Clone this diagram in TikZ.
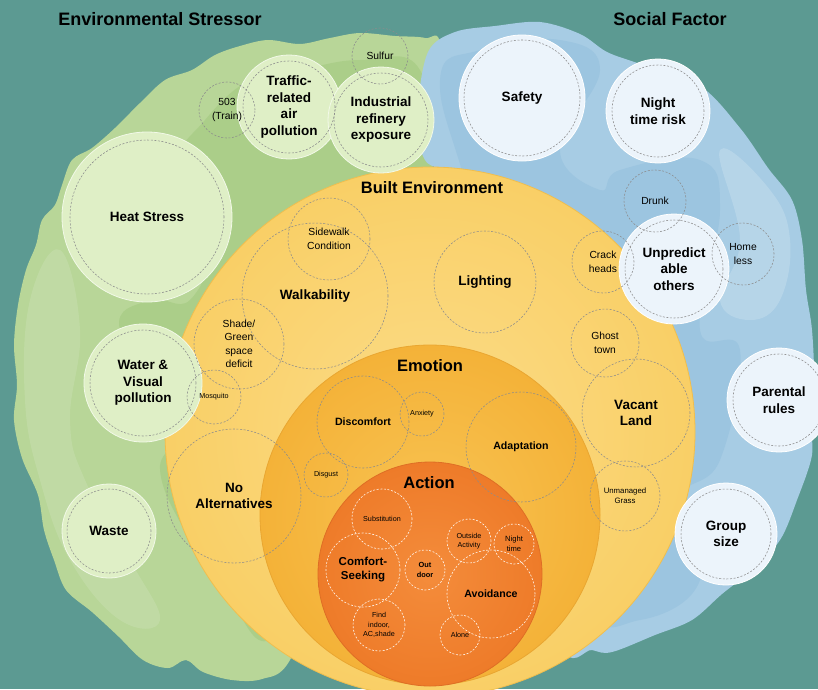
\documentclass[tikz,border=0pt]{standalone}
\usepackage{fontspec}
\setmainfont{Liberation Sans}
\definecolor{bgteal}{HTML}{5C9A92}
\definecolor{gblob}{HTML}{B8D698}
\definecolor{gblobdark}{HTML}{9CC577}
\definecolor{gfill}{HTML}{DFEFC6}
\definecolor{bblob}{HTML}{A7CCE4}
\definecolor{bblobdark}{HTML}{88B8D9}
\definecolor{bfill}{HTML}{ECF4FB}
\definecolor{yin}{HTML}{FBDC88}
\definecolor{yout}{HTML}{F9CF66}
\definecolor{yedge}{HTML}{F0BE4E}
\definecolor{ein}{HTML}{F8C352}
\definecolor{eout}{HTML}{F4B238}
\definecolor{eedge}{HTML}{E9A631}
\definecolor{ain}{HTML}{F48C3B}
\definecolor{aout}{HTML}{EE7B29}
\definecolor{aedge}{HTML}{DE6E25}
\definecolor{ringgray}{HTML}{8C8C8C}
\begin{document}
\begin{tikzpicture}[x=1pt,y=-1pt,
  bigf/.style={font=\fontsize{13.5}{16.5}\selectfont\bfseries},
  midf/.style={font=\fontsize{10.3}{13.5}\selectfont},
  midb/.style={font=\fontsize{10.6}{13}\selectfont\bfseries},
  smallf/.style={font=\fontsize{7.2}{9.4}\selectfont},
  titlef/.style={font=\fontsize{18}{20}\selectfont\bfseries},
  subf/.style={font=\fontsize{16.5}{18}\selectfont\bfseries},
  gcirc/.style={circle, fill=gfill, draw=white!60!gfill, line width=0.8pt, inner sep=0pt, align=center, bigf},
  bcirc/.style={circle, fill=bfill, draw=white, line width=0.8pt, inner sep=0pt, align=center, bigf},
  dring/.style={circle, draw=ringgray, dash pattern=on 2pt off 1.6pt, line width=0.55pt, inner sep=0pt, align=center},
  wring/.style={circle, draw=white!92!orange, dash pattern=on 2pt off 1.6pt, line width=0.6pt, inner sep=0pt, align=center},
  inring/.style={draw=ringgray, dash pattern=on 2pt off 1.6pt, line width=0.55pt}
]
\useasboundingbox (0,0) rectangle (818,689);
\fill[bgteal] (0,0) rectangle (818,689);

% green watercolor blob
\fill[gblob] plot[smooth cycle, tension=0.55] coordinates {
 (440,48) (425,38) (395,36) (360,33) (330,38) (300,44) (268,40) (240,46) (215,55)
 (192,70) (165,80) (140,103) (115,128) (92,148) (72,160) (62,185) (55,205) (42,220)
 (36,245) (26,270) (18,305) (14,345) (17,385) (14,420) (22,458) (38,495) (44,530)
 (54,560) (66,590) (92,612) (118,636) (143,660) (168,668) (186,660) (203,672)
 (232,680) (262,679) (290,660) (330,560) (380,300) (430,180)};
\fill[gblobdark, opacity=0.45] plot[smooth cycle, tension=0.7] coordinates {
 (420,70) (360,60) (300,70) (250,80) (205,120) (175,170) (210,240) (190,300)
 (150,300) (120,330) (180,420) (160,470) (190,540) (230,600) (270,640) (320,560)
 (380,300) (430,180)};
\fill[white, opacity=0.12] plot[smooth cycle, tension=0.7] coordinates {
 (30,300) (60,250) (80,330) (70,420) (85,480) (130,560) (160,620) (120,620) (70,560) (40,480) (25,400)};

% blue watercolor blob
\fill[bblob] plot[smooth cycle, tension=0.55] coordinates {
 (428,52) (455,32) (495,26) (540,22) (580,34) (607,52) (640,64) (700,86) (740,128)
 (768,168) (792,200) (802,240) (806,290) (812,330) (814,380) (810,420) (812,455)
 (797,500) (780,540) (752,570) (722,594) (692,620) (655,635) (612,652) (592,650)
 (560,640) (520,420) (470,200) (425,160) (418,110)};
\fill[bblobdark, opacity=0.35] plot[smooth cycle, tension=0.7] coordinates {
 (440,80) (480,50) (560,40) (600,70) (560,150) (600,190) (620,170) (700,160)
 (720,210) (700,330) (740,350) (720,460) (680,500) (700,580) (640,620) (580,600)
 (520,400) (470,200)};
\fill[white, opacity=0.18] plot[smooth cycle, tension=0.7] coordinates {
 (720,150) (770,190) (790,240) (780,300) (750,320) (720,300) (740,240)};

% nested circles
\shade[inner color=yin, outer color=yout] (430,432) circle[radius=265pt];
\draw[yedge, line width=0.8pt] (430,432) circle[radius=265pt];
\shade[inner color=ein, outer color=eout] (430,515) circle[radius=170pt];
\draw[eedge, line width=0.8pt] (430,515) circle[radius=170pt];
\shade[inner color=ain, outer color=aout] (430,574) circle[radius=112pt];
\draw[aedge, line width=0.8pt] (430,574) circle[radius=112pt];

% titles
\node[titlef] (envt) at (160,19) {Environmental Stressor};
\node[titlef] (soct) at (670,19) {Social Factor};
\node[subf] (bet) at (432,188) {Built Environment};
\node[subf] (emt) at (430,366) {Emotion};
\node[subf] (act) at (429,483) {Action};

% green factor circles
\node[gcirc, minimum size=170pt] (heat) at (147,217) {Heat Stress};
\node[gcirc, minimum size=104pt] (traffic) at (289,107) {Traffic-\\related\\air\\pollution};
\node[gcirc, minimum size=106pt] (industrial) at (381,120) {Industrial\\refinery\\exposure};
\node[gcirc, minimum size=118pt] (water) at (143,383) {Water \&\\Visual\\pollution};
\node[gcirc, minimum size=94pt] (waste) at (109,531) {Waste};
\draw[inring] (heat.center) circle[radius=77pt];
\draw[inring] (traffic.center) circle[radius=46pt];
\draw[inring] (industrial.center) circle[radius=47pt];
\draw[inring] (water.center) circle[radius=53pt];
\draw[inring] (waste.center) circle[radius=42pt];

% blue factor circles
\node[bcirc, minimum size=126pt] (safety) at (522,98) {Safety};
\node[bcirc, minimum size=104pt] (night) at (658,111) {Night\\time risk};
\node[bcirc, minimum size=110pt] (unpred) at (674,269) {Unpredict\\able\\others};
\node[bcirc, minimum size=104pt] (parental) at (779,400) {Parental\\rules};
\node[bcirc, minimum size=102pt] (group) at (726,534) {Group\\size};
\draw[inring] (safety.center) circle[radius=58pt];
\draw[inring] (night.center) circle[radius=46pt];
\draw[inring] (unpred.center) circle[radius=49pt];
\draw[inring] (parental.center) circle[radius=46pt];
\draw[inring] (group.center) circle[radius=45pt];

% dashed sub-factor rings
\node[dring, midf, minimum size=56pt] (sulfur) at (380,56) {Sulfur};
\node[dring, midf, minimum size=56pt] (train) at (227,110) {503\\(Train)};
\node[dring, smallf, minimum size=54pt] (mosq) at (214,397) {Mosquito};
\node[dring, midf, minimum size=62pt] (drunk) at (655,201) {Drunk};
\node[dring, midf, minimum size=62pt] (homeless) at (743,254) {Home\\less};
\node[dring, midf, minimum size=62pt] (crack) at (603,262) {Crack\\heads};

\node[dring, midf, minimum size=82pt] (sidewalk) at (329,239) {Sidewalk\\Condition};
\node[dring, bigf, minimum size=146pt] (walk) at (315,296) {Walkability};
\node[dring, midf, minimum size=90pt] (shade) at (239,344) {Shade/\\Green\\space\\deficit};
\node[dring, bigf, minimum size=102pt] (lighting) at (485,282) {Lighting};
\node[dring, midf, minimum size=68pt] (ghost) at (605,343) {Ghost\\town};
\node[dring, bigf, minimum size=108pt] (vacant) at (636,413) {Vacant\\Land};
\node[dring, smallf, font=\fontsize{7.8}{10}\selectfont, minimum size=70pt] (unmanaged) at (625,496) {Unmanaged\\Grass};
\node[dring, bigf, minimum size=134pt] (noalt) at (234,496) {No\\Alternatives};

\node[dring, midb, minimum size=92pt] (discomfort) at (363,422) {Discomfort};
\node[dring, smallf, minimum size=44pt] (anxiety) at (422,414) {Anxiety};
\node[dring, smallf, minimum size=44pt] (disgust) at (326,475) {Disgust};
\node[dring, midb, minimum size=110pt] (adaptation) at (521,447) {Adaptation};

\node[wring, smallf, minimum size=60pt] (subst) at (382,519) {Substitution};
\node[wring, font=\fontsize{11.5}{14}\selectfont\bfseries, minimum size=74pt] (comfort) at (363,570) {Comfort-\\Seeking};
\node[wring, smallf, minimum size=52pt] (find) at (379,625) {Find\\indoor,\\AC,shade};
\node[wring, font=\fontsize{7.4}{10}\selectfont\bfseries, minimum size=40pt] (outdoor) at (425,570) {Out\\door};
\node[wring, smallf, minimum size=44pt] (outside) at (469,541) {Outside\\Activity};
\node[wring, smallf, font=\fontsize{7.6}{10}\selectfont, minimum size=40pt] (nightt) at (514,544) {Night\\time};
\node[wring, midb, minimum size=88pt] (avoid) at (491,594) {Avoidance};
\node[wring, smallf, minimum size=40pt] (alone) at (460,635) {Alone};
\end{tikzpicture}
\end{document}
